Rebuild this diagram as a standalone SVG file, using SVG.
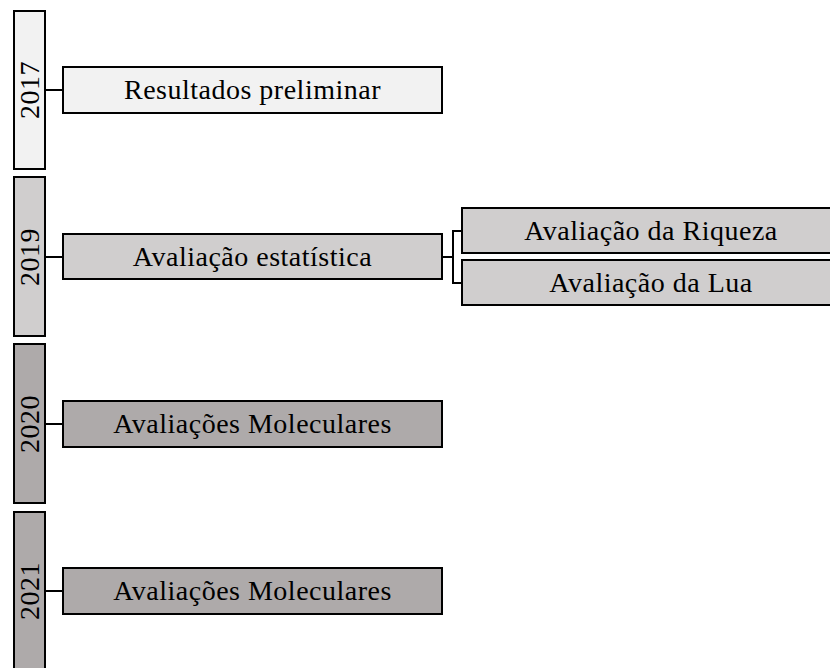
<svg xmlns="http://www.w3.org/2000/svg" width="830" height="668" viewBox="0 0 830 668">
<style>
.b{stroke:#000;stroke-width:2}
.l1{fill:#f2f2f2}.l2{fill:#d0cece}.l3{fill:#aeaaaa}
text{font-family:'Liberation Serif',serif;font-size:28px;letter-spacing:0.5px;fill:#000;text-anchor:middle}
.c{fill:none;stroke:#000;stroke-width:2}
</style>
<rect width="830" height="668" fill="#fff"/>
<g id="connectors">
<path class="c" d="M45 90H63"/>
<path class="c" d="M45 257H63"/>
<path class="c" d="M442 257H453M462 231H453V283H462"/>
<path class="c" d="M45 424H63"/>
<path class="c" d="M45 591H63"/>
</g>
<g id="y2017"><rect class="b l1" x="14" y="11" width="31" height="158"/><text transform="translate(39 90) rotate(-90)">2017</text></g>
<g id="y2019"><rect class="b l2" x="14" y="177" width="31" height="159"/><text transform="translate(39 257) rotate(-90)">2019</text></g>
<g id="y2020"><rect class="b l3" x="14" y="344" width="31" height="159"/><text transform="translate(39 424) rotate(-90)">2020</text></g>
<g id="y2021"><rect class="b l3" x="14" y="512" width="31" height="170"/><text transform="translate(39 591) rotate(-90)">2021</text></g>
<g id="n2017"><rect class="b l1" x="63" y="67" width="379" height="46"/><text x="252.5" y="99">Resultados preliminar</text></g>
<g id="n2019"><rect class="b l2" x="63" y="234" width="379" height="45"/><text x="252.5" y="266">Avaliação estatística</text></g>
<g id="riqueza"><rect class="b l2" x="462" y="208" width="370" height="45"/><text x="651" y="240">Avaliação da Riqueza</text></g>
<g id="lua"><rect class="b l2" x="462" y="260" width="370" height="45"/><text x="651" y="292">Avaliação da Lua</text></g>
<g id="n2020"><rect class="b l3" x="63" y="401" width="379" height="46"/><text x="252.5" y="433">Avaliações Moleculares</text></g>
<g id="n2021"><rect class="b l3" x="63" y="568" width="379" height="46"/><text x="252.5" y="600">Avaliações Moleculares</text></g>
</svg>
